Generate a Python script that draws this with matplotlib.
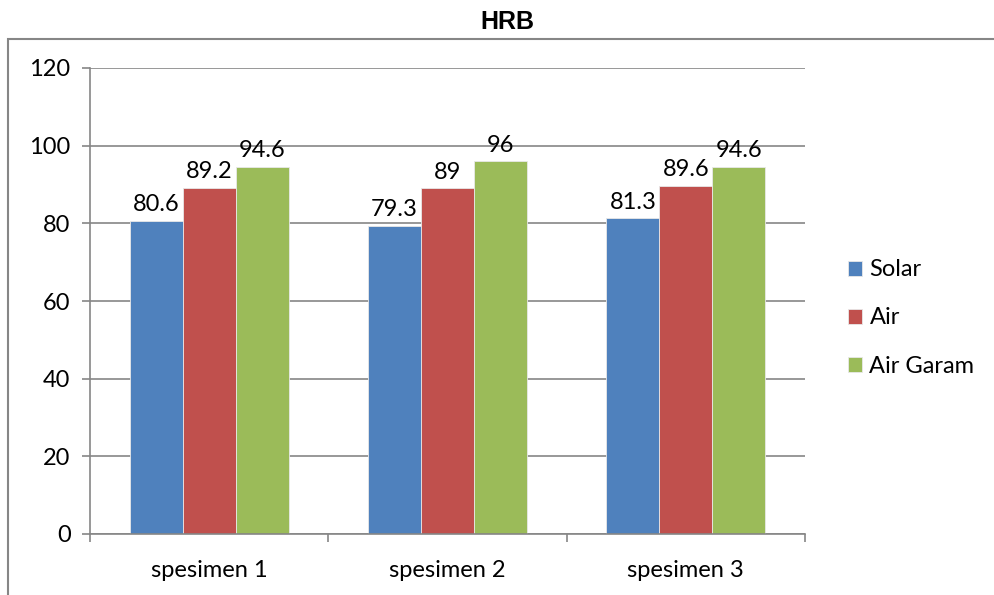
import numpy as np
import matplotlib
matplotlib.use("Agg")
import matplotlib.pyplot as plt
from matplotlib.patches import Rectangle

categories = ["spesimen 1", "spesimen 2", "spesimen 3"]
series = ["Solar", "Air", "Air Garam"]
solar = [80.6, 79.3, 81.3]
air = [89.2, 89.0, 89.6]
air_garam = [94.6, 96.0, 94.6]
value_labels = [["80.6", "79.3", "81.3"], ["89.2", "89", "89.6"], ["94.6", "96", "94.6"]]
colors = ["#4F81BD", "#C0504D", "#9BBB59"]
grid_c = "#868686"
FS = 17

plt.rcParams["font.family"] = ["Lato", "DejaVu Sans"]

fig = plt.figure(figsize=(9.95, 5.95), dpi=100)
# outer chart frame (only its left and top edges fall inside the canvas)
fig.patches.append(Rectangle((8 / 995, -0.1), 1.2, 1 - 39 / 595 + 0.1,
                             transform=fig.transFigure, fill=False,
                             edgecolor=grid_c, lw=1.5))
fig.text(507 / 995, 1 - 22 / 595, "HRB", ha="center", va="center",
         fontsize=18, fontweight="bold", family="Liberation Sans")

ax = fig.add_axes([90 / 995, 1 - 534 / 595, (805 - 90) / 995, (534 - 68) / 595])

x = np.arange(len(categories))
w = 0.222
for i, vals in enumerate([solar, air, air_garam]):
    pos = x + (i - 1) * w
    ax.bar(pos, vals, w, color=colors[i], edgecolor="#e8e8e8", lw=0.6,
           label=series[i], zorder=2)
    for px, v, t in zip(pos, vals, value_labels[i]):
        ax.annotate(t, (px, v), xytext=(0, 4), textcoords="offset points",
                    ha="center", va="bottom", fontsize=FS, zorder=4)

ax.set_xlim(-0.5, 2.5)
ax.set_ylim(0, 120)
ax.set_yticks(range(0, 121, 20))
ax.yaxis.grid(True, color=grid_c, lw=1.2, zorder=0)
ax.set_axisbelow(True)
for s in ["top", "right"]:
    ax.spines[s].set_visible(False)
for s in ["left", "bottom"]:
    ax.spines[s].set_color(grid_c)
    ax.spines[s].set_linewidth(1.2)
ax.tick_params(axis="y", length=6, width=1.2, color=grid_c, labelsize=FS, pad=8)

# category labels centred, ticks on the category boundaries
ax.set_xticks(x)
ax.set_xticklabels(categories)
ax.tick_params(axis="x", which="major", length=0, labelsize=FS, pad=19)
ax.set_xticks([-0.5, 0.5, 1.5, 2.5], minor=True)
ax.tick_params(axis="x", which="minor", length=6, width=1.2, color=grid_c)

ax.legend(loc="center left", bbox_to_anchor=(827 / 995, 1 - 318 / 595),
          bbox_transform=fig.transFigure, frameon=False, fontsize=FS,
          handlelength=0.6, handleheight=0.6, handletextpad=0.3,
          labelspacing=1.15)

fig.savefig("out.png", dpi=100)
